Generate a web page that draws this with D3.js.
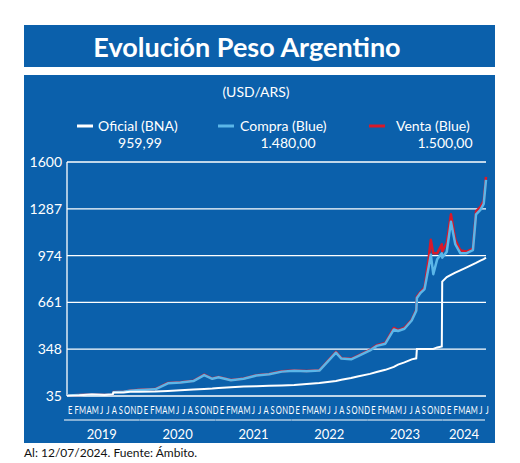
<!DOCTYPE html>
<html><head><meta charset="utf-8">
<script src="https://cdn.jsdelivr.net/npm/d3@7"></script>
<style>body{margin:0;background:#fff}svg text{font-family:Lato,"Open Sans",sans-serif}</style>
</head><body>
<script>
const dates = ['2019-01-01','2019-03-01','2019-05-01','2019-07-01','2019-08-09','2019-08-13','2019-10-01','2019-11-01','2019-12-15',
  '2020-03-01','2020-05-01','2020-07-01','2020-09-01','2020-10-23','2020-12-01','2020-12-31',
  '2021-03-01','2021-05-01','2021-07-01','2021-09-01','2021-11-01','2021-12-31',
  '2022-03-01','2022-05-01','2022-07-20','2022-08-15','2022-10-01','2022-11-01','2022-12-31',
  '2023-02-01','2023-03-15','2023-04-25','2023-05-15','2023-06-15','2023-07-20','2023-08-11','2023-08-14','2023-09-01','2023-09-20',
  '2023-10-10','2023-10-20','2023-11-01','2023-11-20','2023-12-12','2023-12-14','2024-01-05','2024-01-25','2024-02-15','2024-03-10',
  '2024-04-10','2024-04-25','2024-05-10','2024-05-25','2024-06-15','2024-07-01','2024-07-12'];
const oficial = [37.5,40,45,42.5,45,58,59,63,63,
  65,69,74,78,82,85,89,
  94,98,101,104,106,108,
  115,122,136,143,155,166,183,
  195,210,230,245,260,280,287,350,350,350,
  350,350,350,360,366,800,830,845,860,875,
  895,905,915,925,940,950,960];
const compra = [38,41,45,43,46,60,63,70,75,
  80,120,125,135,175,150,160,
  140,150,172,180,198,204,
  200,205,325,285,280,300,340,
  370,385,480,470,485,540,605,690,725,750,
  900,980,850,950,990,960,1000,1200,1050,990,
  990,1000,1010,1250,1280,1320,1480];
const venta = [39,42,46,44,47,62,64,71,76,
  81,122,127,137,178,152,163,
  142,152,174,182,200,206,
  202,207,330,288,284,304,344,
  375,390,490,476,492,545,612,700,732,760,
  960,1080,990,990,1050,1000,1060,1250,1080,1010,
  1000,1010,1020,1270,1300,1340,1500];
const yTicks = [35,348,661,974,1287,1600];
const monthLabels = ['E','F','M','A','M','J','J','A','S','O','N','D'];
const years = [2019,2020,2021,2022,2023,2024];

const W = 520, H = 463, bg = '#0b60ab';
const svg = d3.select('body').append('svg').attr('width', W).attr('height', H);

svg.append('rect').attr('x', 24).attr('y', 25).attr('width', 471).attr('height', 42).attr('fill', bg);
svg.append('rect').attr('x', 24).attr('y', 75).attr('width', 471).attr('height', 368).attr('fill', bg);
svg.append('text').attr('x', 247).attr('y', 57).attr('text-anchor', 'middle')
  .attr('fill', '#fff').attr('font-size', 27).attr('font-weight', 'bold').text('Evolución Peso Argentino');
svg.append('text').attr('x', 256).attr('y', 97).attr('text-anchor', 'middle')
  .attr('fill', '#fff').attr('font-size', 14).text('(USD/ARS)');

// legend
const legend = [
  {name: 'Oficial (BNA)', val: '959,99', color: '#fff', x: 77, tx: 98, vx: 140},
  {name: 'Compra (Blue)', val: '1.480,00', color: '#5bb6e8', x: 218, tx: 240, vx: 288},
  {name: 'Venta (Blue)', val: '1.500,00', color: '#d8192a', x: 369, tx: 396, vx: 445}
];
legend.forEach(l => {
  svg.append('line').attr('x1', l.x).attr('x2', l.x + 16).attr('y1', 126).attr('y2', 126)
    .attr('stroke', l.color).attr('stroke-width', 3);
  svg.append('text').attr('x', l.tx).attr('y', 131).attr('fill', '#fff').attr('font-size', 14).text(l.name);
  svg.append('text').attr('x', l.vx).attr('y', 148).attr('text-anchor', 'middle').attr('fill', '#fff').attr('font-size', 14).text(l.val);
});

const parse = d3.timeParse('%Y-%m-%d');
const t = dates.map(parse);
const x = d3.scaleTime().domain([parse('2019-01-01'), parse('2024-07-12')]).range([67, 486]);
const y = d3.scaleLinear().domain([35, 1600]).range([396, 162]);

// grid
svg.append('g').selectAll('line').data(yTicks).join('line')
  .attr('x1', 67).attr('x2', 486).attr('y1', d => y(d)).attr('y2', d => y(d))
  .attr('stroke', '#fff').attr('stroke-width', 1.3);
svg.append('line').attr('x1', 67).attr('x2', 67).attr('y1', y(1600)).attr('y2', y(35))
  .attr('stroke', '#fff').attr('stroke-width', 1.3);

const yAxis = svg.append('g').attr('transform', 'translate(62,0)')
  .call(d3.axisLeft(y).tickValues(yTicks).tickFormat(d3.format('d')).tickSize(0).tickPadding(0));
yAxis.select('.domain').remove();
yAxis.selectAll('text').attr('fill', '#fff').attr('font-size', 14).attr('font-family', 'Lato,sans-serif');

const line = vals => d3.line().x((d, i) => x(t[i])).y(d => y(d))(vals);
svg.append('path').attr('d', line(venta)).attr('fill', 'none').attr('stroke', '#d8192a').attr('stroke-width', 2.5).attr('stroke-linejoin', 'round');
svg.append('path').attr('d', line(compra)).attr('fill', 'none').attr('stroke', '#5bb6e8').attr('stroke-width', 2.5).attr('stroke-linejoin', 'round');
svg.append('path').attr('d', line(oficial)).attr('fill', 'none').attr('stroke', '#fff').attr('stroke-width', 2);

// months
const months = d3.timeMonth.range(parse('2019-01-01'), parse('2024-07-02'));
svg.append('g').selectAll('text').data(months).join('text')
  .attr('x', d => x(d) + 3.3).attr('y', 414).attr('text-anchor', 'middle')
  .attr('fill', '#fff').attr('font-size', 10.5).attr('font-family', '"Liberation Sans Narrow","DejaVu Sans Condensed",sans-serif')
  .attr('transform', d => `translate(${x(d) + 3.3},0) scale(0.72,1) translate(${-(x(d) + 3.3)},0)`)
  .text(d => monthLabels[d.getMonth()]);

// years
years.forEach(yr => {
  const a = x(new Date(yr, 0, 1)) - 3, b = Math.min(x(new Date(yr, 11, 31)) - 3, 485);
  svg.append('line').attr('x1', a).attr('x2', b).attr('y1', 420).attr('y2', 420).attr('stroke', '#fff').attr('stroke-width', 1);
  svg.append('text').attr('x', (a + b) / 2).attr('y', 439).attr('text-anchor', 'middle')
    .attr('fill', '#fff').attr('font-size', 13).text(yr);
});

svg.append('text').attr('x', 24).attr('y', 457).attr('fill', '#111').attr('font-size', 12)
  .text('Al: 12/07/2024. Fuente: Ámbito.');
</script>
</body></html>
